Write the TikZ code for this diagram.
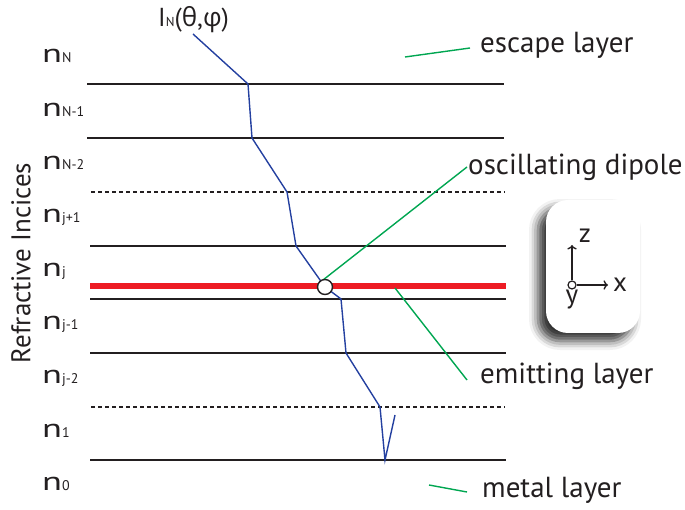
\documentclass[tikz,border=0pt]{standalone}
\usepackage{fontspec}
\setmainfont{PT Sans}
\newfontfamily\grk{Open Sans}
\usetikzlibrary{shadows.blur,arrows.meta}
\definecolor{rayblue}{RGB}{36,64,160}
\definecolor{lblgreen}{RGB}{0,166,81}
\definecolor{emitred}{RGB}{237,28,36}
\definecolor{ink}{RGB}{35,31,32}
\begin{document}
\begin{tikzpicture}[x=1pt,y=-1pt,
  layerline/.style={draw=ink, line width=1.4pt},
  dashline/.style={layerline, dash pattern=on 4pt off 3pt},
  rayline/.style={draw=rayblue, line width=1.4pt, line join=miter},
  callout/.style={draw=lblgreen, line width=1.4pt},
  idx/.style={anchor=base west, inner sep=0pt, text=ink},
  lbl/.style={anchor=base west, inner sep=0pt, text=ink, font=\fontsize{29}{30}\selectfont},
]
\useasboundingbox (0,0) rectangle (685,510);
\newcommand{\nlab}[1]{{\fontsize{26}{26}\selectfont\scalebox{1.4}[1]{n}}{\fontsize{14}{14}\selectfont #1}}
% layer boundaries
\draw[layerline] (87,84) coordinate (l1a) -- (504,84) coordinate (l1b);
\draw[layerline] (87,138) coordinate (l2a) -- (504,138) coordinate (l2b);
\draw[dashline] (91,192) coordinate (l3a) -- (505,192) coordinate (l3b);
\draw[layerline] (90,246) coordinate (l4a) -- (506,246) coordinate (l4b);
\draw[draw=emitred, line width=6pt] (90,286) coordinate (ea) -- (506,286) coordinate (eb);
\draw[layerline] (90,299) coordinate (l5a) -- (506,299) coordinate (l5b);
\draw[layerline] (90,353) coordinate (l6a) -- (506,353) coordinate (l6b);
\draw[dashline] (91,407) coordinate (l7a) -- (505,407) coordinate (l7b);
\draw[layerline] (90,460) coordinate (l8a) -- (506,460) coordinate (l8b);
% index labels
\node[idx] (nN) at (42,63) {\nlab{N}};
\node[idx] (nN1) at (42,117) {\nlab{N-1}};
\node[idx] (nN2) at (42,170) {\nlab{N-2}};
\node[idx] (nj1) at (42,223) {\nlab{j+1}};
\node[idx] (nj) at (42,277) {\nlab{j}};
\node[idx] (njm1) at (42,330) {\nlab{j-1}};
\node[idx] (njm2) at (42,383) {\nlab{j-2}};
\node[idx] (n1) at (42,437) {\nlab{1}};
\node[idx] (n0) at (42,490) {\nlab{0}};
\node[rotate=90, text=ink, font=\fontsize{27}{28}\selectfont, inner sep=0pt] (axis) at (21,263) {Refractive Incices};
% ray
\coordinate (r0) at (193,34);
\coordinate (r1) at (248,84);
\coordinate (r2) at (252,138);
\coordinate (r3) at (287,192);
\coordinate (r4) at (296,246);
\coordinate (rd) at (325,287);
\coordinate (r5) at (341,299);
\coordinate (r6) at (346,353);
\coordinate (r7) at (380,407);
\coordinate (r8) at (385,460);
\coordinate (r9) at (395,415);
\draw[rayline] (r0) -- (r1) -- (r2) -- (r3) -- (r4) -- (rd) -- (r5) -- (r6) -- (r7) -- (r8) -- (r9);
\node[anchor=base west, inner sep=0pt, text=ink, font=\fontsize{26}{28}\selectfont] (IN) at (158,27) {I{\fontsize{13}{13}\selectfont N}({\grk θ},{\grk φ})};
% callouts
\coordinate (c1) at (405,57);
\coordinate (c2) at (470,48);
\draw[callout] (c1) -- (c2);
\node[lbl] (esc) at (480,53) {escape layer};
\coordinate (d1) at (323,280);
\coordinate (d2) at (467,167);
\draw[callout] (d1) -- (d2);
\node[lbl] (osc) at (468,175) {oscillating dipole};
\coordinate (e1) at (395,288);
\coordinate (e2) at (467,380);
\draw[callout] (e1) -- (e2);
\node[lbl] (emi) at (480,383) {emitting layer};
\coordinate (m1) at (429,485);
\coordinate (m2) at (467,492);
\draw[callout] (m1) -- (m2);
\node[lbl] (met) at (482,497) {metal layer};
% dipole
\node[circle, draw=ink, line width=1.4pt, fill=white, minimum size=15pt, inner sep=0pt] (dip) at (rd) {};
% coordinate box
\node[rounded corners=22pt, fill=white, minimum width=94pt, minimum height=133pt,
  blur shadow={shadow xshift=-8pt, shadow yshift=-8pt, shadow blur radius=9pt, shadow opacity=80}] (box) at (593,266.5) {};
\node[circle, draw=ink, line width=1.2pt, fill=white, minimum size=8pt, inner sep=0pt] (o) at (572,285) {};
\coordinate (zt) at (572,245);
\coordinate (xt) at (608,285);
\draw[ink, line width=1.3pt, ->] (o) -- (zt);
\draw[ink, line width=1.3pt, ->] (o) -- (xt);
\node[text=ink, font=\fontsize{27}{28}\selectfont, inner sep=0pt] (zl) at (585,236) {z};
\node[text=ink, font=\fontsize{27}{28}\selectfont, inner sep=0pt] (xl) at (620,285) {x};
\node[text=ink, font=\fontsize{27}{28}\selectfont, inner sep=0pt] (yl) at (572,300) {y};
\end{tikzpicture}
\end{document}
